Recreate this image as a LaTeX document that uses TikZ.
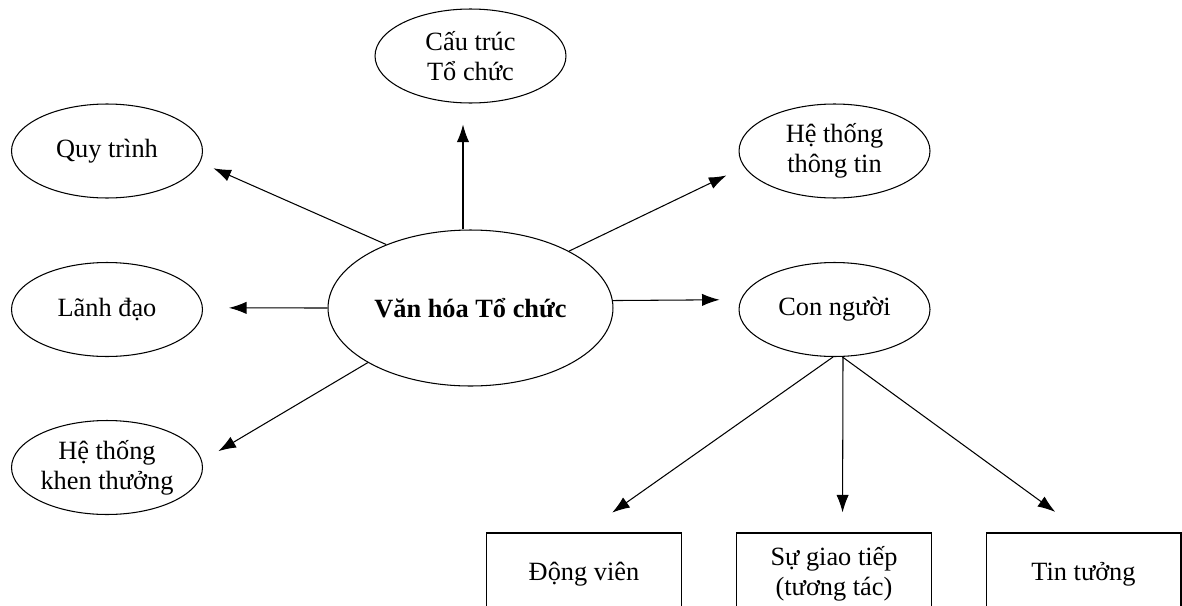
\documentclass[tikz,border=0pt]{standalone}
\usepackage{fontspec}
\setmainfont{Liberation Serif}
\usetikzlibrary{shapes.geometric,arrows.meta}

\begin{document}
\begin{tikzpicture}[x=0.02cm, y=-0.02cm, line width=0.6pt,
    font=\fontsize{15}{17}\selectfont,
    oval/.style={draw, ellipse, inner sep=0pt, minimum width=3.82cm, minimum height=1.88cm, align=center},
    hop/.style={draw, rectangle, minimum width=3.9cm, minimum height=1.64cm, align=center},
    arr/.style={-{Latex[length=10pt,width=7pt]}}]
      \useasboundingbox (0,0) rectangle (1182,605);
      \clip (0,0) rectangle (1182,605);
      % center
      \node[oval, minimum width=5.7cm, minimum height=3.12cm, font=\fontsize{15}{17}\selectfont\bfseries] at (470.5,308) (VH) {Văn hóa Tổ chức};
      % top
      \node[oval] at (470.5,56) (CT) {Cấu trúc\\Tổ chức};
      \draw[arr, shorten >=0.42cm] ([xshift=-0.15cm]VH.north) -- ([xshift=-0.15cm]CT.south);
      % left side
      \node[oval] at (107,151) (QT) {Quy trình};
      \node[oval] at (107,309.5) (LD) {Lãnh đạo};
      \node[oval] at (107,467.5) (KT) {Hệ thống\\khen thưởng};
      \draw[arr, shorten >=0.29cm] (VH.143) -- (QT.353);
      \draw[arr, shorten >=0.52cm] (VH.180) -- (LD.1);
      \draw[arr, shorten >=0.38cm] (VH.208) -- (KT.4);
      % right side
      \node[oval] at (834.5,151) (TT) {Hệ thống\\thông tin};
      \node[oval] at (834.5,309.5) (CN) {Con người};
      \draw[arr, shorten >=0.39cm] (VH.30) -- (TT.190);
      \draw[arr, shorten >=0.42cm] (VH.3) -- (CN.174);
      % bottom line
      \node[hop] at (584,574) (DV) {Động viên};
      \node[hop] at (834,574) (GT) {Sự giao tiếp\\(tương tác)};
      \node[hop] at (1083.5,574) (TG) {Tin tưởng};
      \draw[arr, shorten >=0.69cm] ([xshift=-0.03cm]CN.south) -- (DV.north);
      \draw[arr, shorten >=0.4cm] ([xshift=0.17cm]CN.south) -- ([xshift=0.17cm]GT.north);
      \draw[arr, shorten >=0.7cm] ([xshift=0.16cm]CN.south) -- (TG.north);
\end{tikzpicture}
\end{document}
